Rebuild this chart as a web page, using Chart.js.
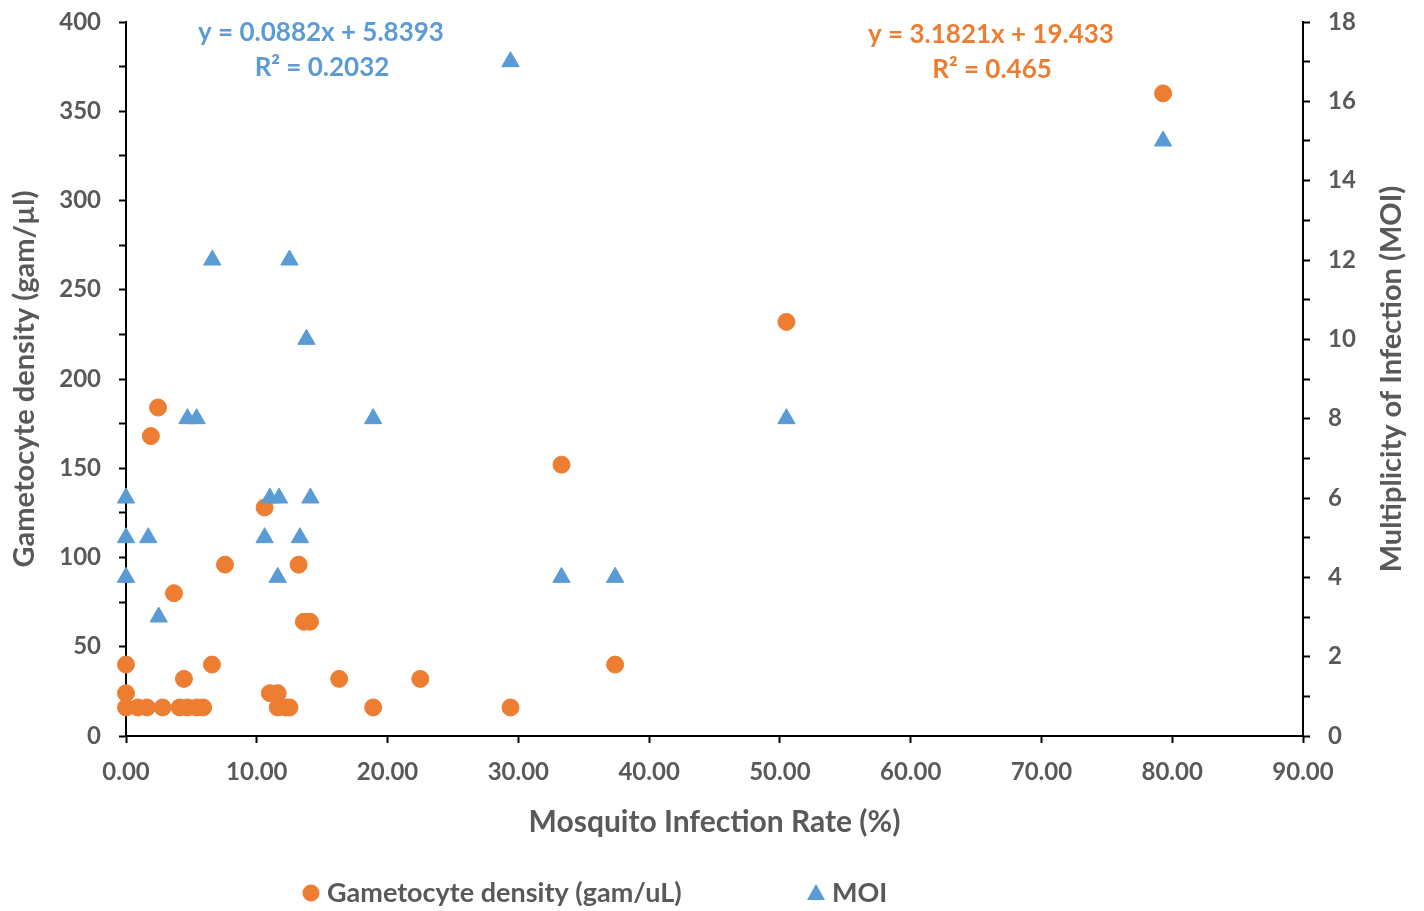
<!DOCTYPE html>
<html>
<head>
<meta charset="utf-8">
<script src="https://cdn.jsdelivr.net/npm/chart.js@4"></script>
<style>
  body { margin: 0; background: #fff; }
  canvas { display: block; }
</style>
</head>
<body>
<canvas id="chart" width="1424" height="911"></canvas>
<script>
// Mosquito infection rate (%) vs gametocyte density (left axis)
const gamX = [0, 0, 0, 0.9, 1.6, 1.9, 2.45, 2.8, 3.67, 4.1, 4.43, 4.7, 5.4, 5.9, 6.57, 7.57,
              10.6, 11.0, 11.6, 11.6, 12.2, 12.5, 13.2, 13.6, 14.07, 16.3, 18.9, 22.5, 29.4,
              33.3, 37.4, 50.5, 79.3];
const gamY = [40, 24, 16, 16, 16, 168, 184, 16, 80, 16, 32, 16, 16, 16, 40, 96,
              128, 24, 24, 16, 16, 16, 96, 64, 64, 32, 16, 32, 16,
              152, 40, 232, 360];

// Mosquito infection rate (%) vs MOI (right axis)
const moiX = [0, 0, 0, 1.7, 2.5, 4.7, 5.4, 6.6, 10.6, 11.0, 11.6, 11.7, 12.5, 13.3, 13.8, 14.1,
              18.9, 29.4, 33.3, 37.4, 50.5, 79.3];
const moiY = [6, 5, 4, 5, 3, 8, 8, 12, 5, 6, 4, 6, 12, 5, 10, 6,
              8, 17, 4, 4, 8, 15];

const gamLabel = "Gametocyte density (gam/uL)";
const moiLabel = "MOI";
const gamEq = ["y = 3.1821x + 19.433", "R\u00B2 = 0.465"];
const moiEq = ["y = 0.0882x + 5.8393", "R\u00B2 = 0.2032"];

const orange = "#ED7D31";
const blue = "#5B9BD5";
const grey = "#595959";
const fontFam = "Lato, 'Open Sans', sans-serif";

function toPoints(xs, ys)
{
    return xs.map((x, i) => ({x: x, y: ys[i]}));
}

const extraText = {
    id: "extraText",
    afterDraw(chart)
    {
        const ctx = chart.ctx;
        const area = chart.chartArea;
        ctx.save();
        ctx.font = "bold 26px " + fontFam;
        ctx.textAlign = "center";
        ctx.textBaseline = "middle";

        // trendline equations
        ctx.fillStyle = blue;
        ctx.fillText(moiEq[0], area.left + 195, 33);
        ctx.fillText(moiEq[1], area.left + 196, 68);
        ctx.fillStyle = orange;
        ctx.fillText(gamEq[0], area.left + 865, 35);
        ctx.fillText(gamEq[1], area.left + 866, 70);

        // right axis title, reading upwards
        ctx.fillStyle = grey;
        ctx.font = "bold 29px " + fontFam;
        ctx.translate(1392, (area.top + area.bottom) / 2);
        ctx.rotate(-Math.PI / 2);
        ctx.fillText("Multiplicity of Infection (MOI)", 0, 0);
        ctx.restore();

        // legend
        ctx.save();
        ctx.font = "bold 27px " + fontFam;
        ctx.textAlign = "left";
        ctx.textBaseline = "middle";
        const ly = 893;
        ctx.fillStyle = orange;
        ctx.beginPath();
        ctx.arc(311, ly, 8.5, 0, Math.PI * 2);
        ctx.fill();
        ctx.fillStyle = grey;
        ctx.fillText(gamLabel, 327, ly);
        ctx.fillStyle = blue;
        ctx.beginPath();
        ctx.moveTo(816, ly - 9);
        ctx.lineTo(825, ly + 7);
        ctx.lineTo(807, ly + 7);
        ctx.closePath();
        ctx.fill();
        ctx.fillStyle = grey;
        ctx.fillText(moiLabel, 832, ly);
        ctx.restore();
    }
};

const tickFont = {family: fontFam, size: 24, weight: "bold"};
const axisGrid = {
    display: true,
    drawOnChartArea: false,
    drawTicks: true,
    tickLength: 7,
    tickColor: "#000",
    tickWidth: 2
};
const axisBorder = {display: true, color: "#000", width: 2};

function fixWidth(w)
{
    return (s) => {
        s.width = w;
        s.paddingTop = 0;
        s.paddingBottom = 0;
    };
}

const chart = new Chart(document.getElementById("chart"), {
    type: "scatter",
    data: {
        datasets: [
            {
                label: moiLabel,
                data: toPoints(moiX, moiY),
                yAxisID: "y1",
                pointStyle: "triangle",
                pointRadius: 10,
                pointHoverRadius: 10,
                backgroundColor: blue,
                borderColor: blue,
                borderWidth: 1,
                clip: false
            },
            {
                label: gamLabel,
                data: toPoints(gamX, gamY),
                yAxisID: "y",
                pointStyle: "circle",
                pointRadius: 8.5,
                pointHoverRadius: 8.5,
                backgroundColor: orange,
                borderColor: orange,
                borderWidth: 1,
                clip: false
            }
        ]
    },
    options: {
        responsive: false,
        animation: false,
        layout: {padding: {top: 22, left: 0, right: 0, bottom: 70}},
        plugins: {
            legend: {display: false},
            tooltip: {enabled: false}
        },
        scales: {
            x: {
                type: "linear",
                min: 0,
                max: 90,
                afterFit: (s) => { s.height = 105; },
                grid: axisGrid,
                border: axisBorder,
                ticks: {
                    stepSize: 10,
                    color: grey,
                    font: tickFont,
                    padding: 15,
                    maxRotation: 0,
                    callback: (v) => Number(v).toFixed(2)
                },
                title: {
                    display: true,
                    text: "Mosquito Infection Rate (%)",
                    color: grey,
                    font: {family: fontFam, size: 30, weight: "bold"},
                    padding: {top: 0, bottom: 1}
                }
            },
            y: {
                type: "linear",
                position: "left",
                min: 0,
                max: 400,
                afterFit: fixWidth(126),
                grid: axisGrid,
                border: axisBorder,
                ticks: {
                    stepSize: 25,
                    color: grey,
                    font: tickFont,
                    padding: 18,
                    callback: (v) => (v % 50 === 0 ? v : "")
                },
                title: {
                    display: true,
                    text: "Gametocyte density (gam/\u00B5l)",
                    color: grey,
                    font: {family: fontFam, size: 29, weight: "bold"},
                    padding: {top: 7, bottom: 0}
                }
            },
            y1: {
                type: "linear",
                position: "right",
                min: 0,
                max: 18,
                afterFit: fixWidth(121),
                grid: axisGrid,
                border: axisBorder,
                ticks: {
                    stepSize: 1,
                    color: grey,
                    font: tickFont,
                    padding: 18,
                    callback: (v) => (v % 2 === 0 ? v : "")
                }
            }
        }
    },
    plugins: [extraText]
});
</script>
</body>
</html>
